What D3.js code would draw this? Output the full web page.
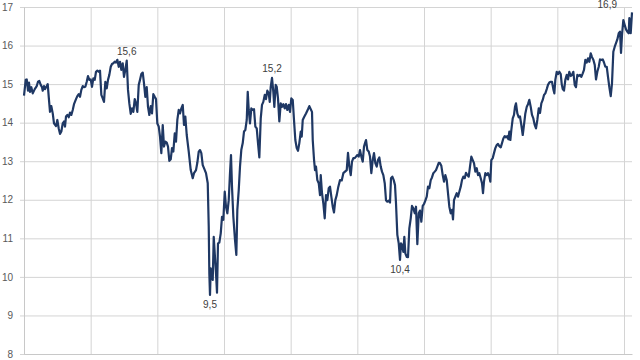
<!DOCTYPE html>
<html>
<head>
<meta charset="utf-8">
<script src="https://cdn.jsdelivr.net/npm/d3@7"></script>
<style>
    body { margin: 0; background: #fff; }
    .axis text { font-family: "Liberation Sans", Arial, sans-serif; font-size: 10px; fill: #595959; }
    .grid line { stroke: #d4d4d4; }
    .grid path { stroke: #c8c8c8; }
    .valueLabel { font-family: "Liberation Sans", Arial, sans-serif; font-size: 10px; fill: #404040; }
</style>
</head>
<body>
<div id="chart"></div>
<script>

// years since start of series (grid lines are one year apart)
var gridYears = [0, 1, 2, 3, 4, 5, 6, 7, 8, 9];
var yTicks = [8, 9, 10, 11, 12, 13, 14, 15, 16, 17];

// [years since start, value]
var series = [
    [0,14.70],[0.026,15.11],[0.041,15.12],[0.06,14.83],[0.075,15.04],[0.09,14.80],[0.11,14.92],[0.131,14.76],[0.161,14.87],[0.191,14.95],
    [0.21,15.06],[0.23,15.08],[0.251,14.98],[0.27,14.92],[0.281,14.83],[0.30,14.95],[0.315,14.87],[0.341,14.95],[0.356,15.00],[0.371,14.67],
    [0.39,14.28],[0.41,14.43],[0.431,14.24],[0.45,13.98],[0.48,13.91],[0.50,14.07],[0.521,13.85],[0.54,13.71],[0.56,13.77],[0.581,13.98],
    [0.60,14.03],[0.615,13.90],[0.63,14.16],[0.65,14.20],[0.671,14.14],[0.69,14.26],[0.71,14.20],[0.731,14.33],[0.75,14.48],[0.78,14.61],
    [0.80,14.69],[0.821,14.74],[0.84,14.67],[0.86,14.85],[0.881,14.95],[0.90,14.92],[0.92,14.93],[0.941,15.06],[0.96,15.21],[0.98,15.11],
    [1.001,15.12],[1.02,14.93],[1.04,15.15],[1.061,15.11],[1.08,15.32],[1.10,15.35],[1.121,15.32],[1.14,15.35],[1.16,14.72],[1.181,14.63],
    [1.20,14.54],[1.22,15.06],[1.241,14.89],[1.26,15.11],[1.28,15.24],[1.301,15.45],[1.32,15.52],[1.34,15.54],[1.361,15.58],[1.38,15.56],
    [1.40,15.63],[1.421,15.45],[1.44,15.58],[1.46,15.37],[1.481,15.54],[1.50,15.19],[1.52,15.37],[1.541,15.61],[1.56,14.85],[1.58,14.50],
    [1.601,14.23],[1.62,14.37],[1.64,14.28],[1.661,14.61],[1.68,14.50],[1.70,14.28],[1.721,14.98],[1.74,15.11],[1.76,15.26],[1.781,15.30],
    [1.80,15.02],[1.82,14.67],[1.841,14.92],[1.86,14.41],[1.88,14.20],[1.901,14.43],[1.92,14.24],[1.94,14.74],[1.961,14.67],[1.98,14.61],
    [2.00,13.98],[2.021,13.90],[2.04,13.64],[2.06,13.21],[2.081,13.94],[2.10,13.38],[2.12,13.51],[2.141,13.48],[2.16,13.38],[2.18,13.01],
    [2.201,13.05],[2.22,13.34],[2.24,13.25],[2.261,13.72],[2.28,13.51],[2.30,14.07],[2.321,14.33],[2.34,14.24],[2.36,14.37],[2.381,14.46],
    [2.40,13.94],[2.42,14.16],[2.441,13.68],[2.471,13.25],[2.501,12.77],[2.531,12.56],[2.55,12.69],[2.58,12.77],[2.60,12.96],[2.621,13.25],
    [2.64,13.29],[2.66,13.21],[2.681,12.90],[2.70,12.82],[2.73,12.69],[2.756,12.43],[2.771,11.30],[2.78,10.09],[2.79,9.53],[2.801,10.22],
    [2.816,10.01],[2.831,9.92],[2.846,11.04],[2.861,10.61],[2.88,10.09],[2.895,9.59],[2.91,10.87],[2.93,10.89],[2.951,11.13],[2.97,11.56],
    [2.99,11.48],[3.011,12.21],[3.03,11.82],[3.05,11.65],[3.071,11.99],[3.09,12.69],[3.105,13.16],[3.12,12.34],[3.14,11.56],[3.165,10.96],
    [3.185,10.57],[3.20,11.74],[3.221,12.25],[3.24,12.86],[3.26,13.30],[3.281,13.47],[3.30,13.77],[3.32,13.81],[3.341,14.07],[3.356,14.80],
    [3.371,14.33],[3.39,13.98],[3.41,14.37],[3.431,14.33],[3.45,14.35],[3.47,13.90],[3.491,13.85],[3.51,13.47],[3.53,13.10],[3.551,14.11],
    [3.57,14.46],[3.59,14.54],[3.611,14.72],[3.63,14.61],[3.65,14.83],[3.671,14.76],[3.686,14.54],[3.701,14.93],[3.72,15.16],[3.74,14.80],
    [3.755,14.41],[3.776,14.98],[3.791,14.93],[3.81,14.63],[3.83,14.03],[3.851,14.50],[3.87,14.41],[3.89,14.48],[3.911,14.37],[3.93,14.48],
    [3.95,14.33],[3.971,14.46],[3.99,14.28],[4.01,14.63],[4.031,14.59],[4.05,14.07],[4.07,13.55],[4.091,13.34],[4.11,13.27],[4.13,13.47],
    [4.151,13.77],[4.166,13.64],[4.181,14.07],[4.20,14.14],[4.23,14.24],[4.26,14.35],[4.28,14.43],[4.301,14.35],[4.32,14.28],[4.331,13.55],
    [4.35,13.05],[4.365,12.77],[4.38,12.86],[4.40,12.51],[4.421,12.43],[4.44,12.12],[4.451,12.64],[4.47,12.17],[4.49,11.91],[4.511,11.52],
    [4.53,12.12],[4.55,11.99],[4.571,12.30],[4.59,12.34],[4.61,12.08],[4.631,11.82],[4.65,11.67],[4.67,11.99],[4.691,12.12],[4.715,12.34],
    [4.74,12.51],[4.766,12.50],[4.79,12.69],[4.815,12.73],[4.841,12.77],[4.86,13.22],[4.88,12.86],[4.901,12.64],[4.92,12.99],[4.94,13.08],
    [4.961,13.08],[4.98,13.12],[5.00,13.16],[5.021,13.12],[5.04,13.29],[5.06,13.12],[5.081,12.99],[5.10,13.38],[5.115,13.47],[5.13,13.55],
    [5.15,13.29],[5.171,13.25],[5.19,13.12],[5.21,12.69],[5.231,13.03],[5.25,13.21],[5.27,12.95],[5.291,12.86],[5.31,13.03],[5.33,13.10],
    [5.351,12.86],[5.37,12.73],[5.39,12.64],[5.411,12.43],[5.43,11.99],[5.45,11.95],[5.471,11.98],[5.49,11.93],[5.505,12.56],[5.525,12.60],
    [5.546,12.51],[5.565,12.38],[5.58,11.91],[5.60,11.09],[5.621,10.87],[5.64,10.44],[5.655,10.87],[5.67,10.83],[5.69,10.65],[5.705,11.04],
    [5.72,10.61],[5.741,10.52],[5.76,10.51],[5.78,11.26],[5.801,11.52],[5.82,11.84],[5.84,11.78],[5.861,11.65],[5.88,11.82],[5.90,10.85],
    [5.921,11.65],[5.94,11.72],[5.96,11.43],[5.981,11.84],[6.00,11.89],[6.02,11.98],[6.041,12.08],[6.06,12.34],[6.08,12.30],[6.101,12.51],
    [6.12,12.58],[6.14,12.69],[6.161,12.73],[6.18,12.77],[6.20,12.86],[6.221,12.96],[6.24,12.95],[6.26,12.88],[6.281,12.64],[6.30,12.47],
    [6.32,12.64],[6.341,12.51],[6.36,12.17],[6.38,11.82],[6.401,11.65],[6.42,11.74],[6.435,11.49],[6.45,11.99],[6.47,12.08],[6.491,12.17],
    [6.51,12.08],[6.53,12.21],[6.551,12.34],[6.57,12.51],[6.59,12.60],[6.611,12.56],[6.63,12.70],[6.65,12.64],[6.671,12.60],[6.69,12.86],
    [6.71,13.12],[6.731,13.03],[6.75,12.95],[6.77,12.73],[6.791,12.82],[6.81,12.64],[6.83,12.69],[6.851,12.56],[6.87,12.43],[6.885,12.17],
    [6.90,12.47],[6.92,12.69],[6.941,12.64],[6.96,12.69],[6.98,12.60],[6.995,12.47],[7.01,13.03],[7.031,13.08],[7.05,13.21],[7.07,13.34],
    [7.091,13.42],[7.11,13.45],[7.13,13.39],[7.151,13.36],[7.17,13.47],[7.19,13.59],[7.211,13.65],[7.23,13.62],[7.25,13.65],[7.265,13.57],
    [7.28,13.77],[7.295,13.55],[7.31,13.81],[7.331,14.11],[7.35,14.20],[7.365,14.41],[7.38,14.50],[7.40,14.24],[7.421,14.14],[7.44,14.16],
    [7.46,13.94],[7.481,13.68],[7.50,13.94],[7.52,14.24],[7.541,14.41],[7.56,14.48],[7.58,14.59],[7.601,14.41],[7.62,14.20],[7.64,14.11],
    [7.661,13.94],[7.68,13.85],[7.70,14.07],[7.721,14.37],[7.74,14.25],[7.76,14.50],[7.781,14.59],[7.80,14.72],[7.82,14.76],[7.841,14.87],
    [7.86,14.98],[7.88,15.04],[7.901,15.06],[7.92,15.06],[7.94,14.87],[7.955,14.76],[7.97,15.11],[7.991,15.32],[8.01,15.26],[8.03,15.32],
    [8.051,15.26],[8.066,15.00],[8.081,14.87],[8.10,14.83],[8.12,15.11],[8.141,15.24],[8.16,15.12],[8.18,15.32],[8.201,15.21],[8.22,15.24],
    [8.24,15.32],[8.261,14.98],[8.28,14.92],[8.30,15.24],[8.321,15.21],[8.34,15.24],[8.36,15.19],[8.381,15.28],[8.40,15.37],[8.42,15.63],
    [8.441,15.56],[8.46,15.67],[8.48,15.58],[8.501,15.80],[8.52,15.70],[8.54,15.63],[8.561,15.50],[8.58,15.12],[8.60,15.32],[8.621,15.45],
    [8.64,15.64],[8.66,15.63],[8.681,15.64],[8.70,15.56],[8.72,15.45],[8.741,15.45],[8.76,15.19],[8.78,14.92],[8.801,14.69],[8.82,15.02],
    [8.84,15.84],[8.861,15.97],[8.88,16.06],[8.90,16.16],[8.921,16.32],[8.94,16.36],[8.955,15.81],[8.97,16.27],[8.99,16.66],[9.011,16.53],
    [9.03,16.42],[9.05,16.36],[9.071,16.32],[9.08,16.71],[9.101,16.32],[9.12,16.86]
];

// points that carry a value label
var labelTimes = [1.541, 2.79, 3.72, 5.64, 9.12];


/*
SVG + SCALES
*/
var width = 640;
var height = 360;
var margin = { top: 7, left: 24, right: 8, bottom: 6 };

var svg = d3.select("#chart")
    .append("svg")
    .attr("width", width)
    .attr("height", height);

var xScale = d3.scaleLinear()
    .domain([0, d3.max(series, function(d) { return d[0]; })])
    .range([margin.left, width - margin.right]);

var yScale = d3.scaleLinear()
    .domain([8, 17])
    .range([height - margin.bottom, margin.top]);

var plotW = width - margin.right - margin.left;
var plotH = height - margin.bottom - margin.top;


/*
GRID + AXES
*/
svg.append("g")
    .attr("class", "grid")
    .attr("transform", `translate(${margin.left},0)`)
    .call(d3.axisLeft(yScale).tickValues(yTicks).tickSize(-plotW).tickFormat(""))
    .call(function(g) { g.select(".domain").remove(); });

svg.append("g")
    .attr("class", "grid")
    .attr("transform", `translate(0,${height - margin.bottom})`)
    .call(d3.axisBottom(xScale).tickValues(gridYears).tickSize(-plotH).tickSizeOuter(0).tickFormat(""));

svg.append("g")
    .attr("class", "axis grid")
    .attr("transform", `translate(${margin.left},0)`)
    .call(d3.axisLeft(yScale).tickValues(yTicks).tickSize(4).tickSizeOuter(0).tickPadding(7))
    .call(function(g) { g.selectAll(".tick line").attr("stroke", "#c8c8c8"); });


/*
LINE
*/
var line = d3.line()
    .x(function(d) { return xScale(d[0]); })
    .y(function(d) { return yScale(d[1]); })
    .curve(d3.curveLinear);

svg.append("path")
    .datum(series)
    .attr("d", line)
    .attr("fill", "none")
    .attr("stroke", "#1f3864")
    .attr("stroke-width", 2.2)
    .attr("stroke-linejoin", "round");


/*
VALUE LABELS
*/
var fmt = d3.formatLocale({ decimal: ",", thousands: ".", grouping: [3], currency: ["", ""] }).format(".1f");

var labelled = series.filter(function(d) { return labelTimes.indexOf(d[0]) > -1; });

// the last label sits left of its point so it stays inside the chart
function atEdge(d) { return xScale(d[0]) > width - 30; }

svg.selectAll(".valueLabel")
    .data(labelled)
    .enter()
    .append("text")
    .attr("class", "valueLabel")
    .attr("x", function(d) { return atEdge(d) ? xScale(d[0]) - 15 : xScale(d[0]); })
    .attr("y", function(d) {
        if (d[1] < 12) return yScale(d[1]) + 13;
        return yScale(d[1]) + (atEdge(d) ? -4 : -6);
    })
    .attr("text-anchor", function(d) { return atEdge(d) ? "end" : "middle"; })
    .text(function(d) { return fmt(d[1]); });

</script>
</body>
</html>
